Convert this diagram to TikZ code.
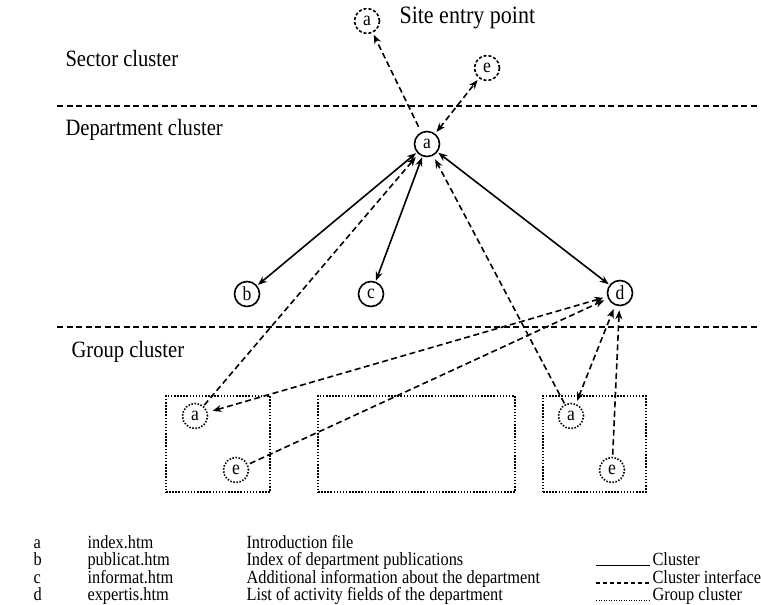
\documentclass[tikz,border=0pt]{standalone}
\usepackage{fontspec}
\setmainfont{Liberation Serif}[FakeStretch=0.88]
\usetikzlibrary{arrows.meta}
\begin{document}
\begin{tikzpicture}[x=1pt,y=-1pt,
  every node/.style={font=\fontsize{18.6}{20}\selectfont},
  page/.style={circle,draw,line width=1.6pt,minimum size=25pt,inner sep=0pt,
    font=\fontsize{20}{20}\selectfont},
  iface/.style={page,dash pattern=on 3pt off 2pt},
  grp/.style={page,dash pattern=on 1.5pt off 1.6pt},
  grpbox/.style={draw,line width=1.5pt,dash pattern=on 1.5pt off 1.6pt},
  lvl/.style={anchor=west,font=\fontsize{23.4}{25}\selectfont},
  tip/.style={-{Stealth[length=9pt,width=7pt]}},
  tips/.style={{Stealth[length=9pt,width=7pt]}-{Stealth[length=9pt,width=7pt]}},
  link/.style={line width=1.6pt},
  ilink/.style={line width=1.6pt,dash pattern=on 6pt off 3.5pt},
  sep/.style={line width=1.6pt,dash pattern=on 6pt off 3.5pt},
  leg/.style={anchor=base west}]
\useasboundingbox (0,0) rectangle (761,605);

% cluster separators
\coordinate (s1l) at (57,106);
\coordinate (s1r) at (759,106);
\coordinate (s2l) at (57,327);
\coordinate (s2r) at (759,327);
\draw[sep] (s1l) -- (s1r);
\draw[sep] (s2l) -- (s2r);

% level labels
\node[lvl] (lsec) at (62,58) {Sector cluster};
\node[lvl] (ldep) at (62,130) {Department cluster};
\node[lvl] (lgrp) at (68,352) {Group cluster};

% sector level
\node[iface] (sa) at (367,21) {a};
\node[lvl,font=\fontsize{25}{27}\selectfont] (site) at (396,18) {Site entry point};
\node[iface] (se) at (487,68) {e};

% department level
\node[page] (a) at (427,144) {a};
\node[page] (b) at (247,294) {b};
\node[page] (c) at (371,294) {c};
\node[page] (d) at (620,293) {d};

% group level boxes and pages
\node[grpbox,minimum width=104pt,minimum height=96pt] (g1) at (218,444) {};
\node[grpbox,minimum width=197pt,minimum height=96pt] (g2) at (416.5,444) {};
\node[grpbox,minimum width=103pt,minimum height=96pt] (g3) at (594.5,444) {};
\node[grp] (ga1) at (195,416) {a};
\node[grp] (ge1) at (236,470) {e};
\node[grp] (ga3) at (571,416) {a};
\node[grp] (ge3) at (612,470) {e};

% cluster links
\draw[link,tips,shorten <=1pt,shorten >=1pt] (a) -- (b);
\draw[link,tips,shorten <=1pt,shorten >=1pt] (a) -- (c);
\draw[link,tips,shorten <=1pt,shorten >=1pt] (a) -- (d);

% cluster interface links
\draw[ilink,tip,shorten <=6pt,shorten >=2pt] (a) -- (sa);
\draw[ilink,tips,shorten <=2pt,shorten >=2pt] (a) -- (se);
\draw[ilink,tip,shorten <=1pt,shorten >=4pt] (ga1) -- (a);
\draw[ilink,tip,shorten <=1pt,shorten >=4pt] (ga3) -- (a);
\draw[ilink,tips,shorten <=5pt,shorten >=4pt] (ga1) -- (d);
\draw[ilink,tip,shorten <=2pt,shorten >=4pt] (ge1) -- (d);
\draw[ilink,tips,shorten <=3pt,shorten >=4pt] (ga3) -- (d);
\draw[ilink,tip,shorten <=2pt,shorten >=4pt] (ge3) -- (d);

% legend: pages
\node[leg] (k1) at (30,548) {a};
\node[leg] (k2) at (30,565.5) {b};
\node[leg] (k3) at (30,583) {c};
\node[leg] (k4) at (30,600.5) {d};
\node[leg] (f1) at (84,548) {index.htm};
\node[leg] (f2) at (84,565.5) {publicat.htm};
\node[leg] (f3) at (84,583) {informat.htm};
\node[leg] (f4) at (84,600.5) {expertis.htm};
\node[leg] (t1) at (243,548) {Introduction file};
\node[leg] (t2) at (243,565.5) {Index of department publications};
\node[leg] (t3) at (243,583) {Additional information about the department};
\node[leg] (t4) at (243,600.5) {List of activity fields of the department};

% legend: line styles
\node[leg] (l1) at (649,565.5) {Cluster};
\node[leg] (l2) at (649,583) {Cluster interface};
\node[leg] (l3) at (649,600.5) {Group cluster};
\coordinate (l1s) at (596,565.5);
\coordinate (l2s) at (596,583);
\coordinate (l3s) at (596,600.5);
\draw[link,line width=1.4pt] (l1s) -- ([xshift=1pt]l1s -| l1.west);
\draw[line width=1.3pt,dash pattern=on 4pt off 3pt] (l2s) -- ([xshift=1pt]l2s -| l2.west);
\draw[line width=1.3pt,dash pattern=on 1pt off 1.5pt] (l3s) -- ([xshift=1pt]l3s -| l3.west);
\end{tikzpicture}
\end{document}
